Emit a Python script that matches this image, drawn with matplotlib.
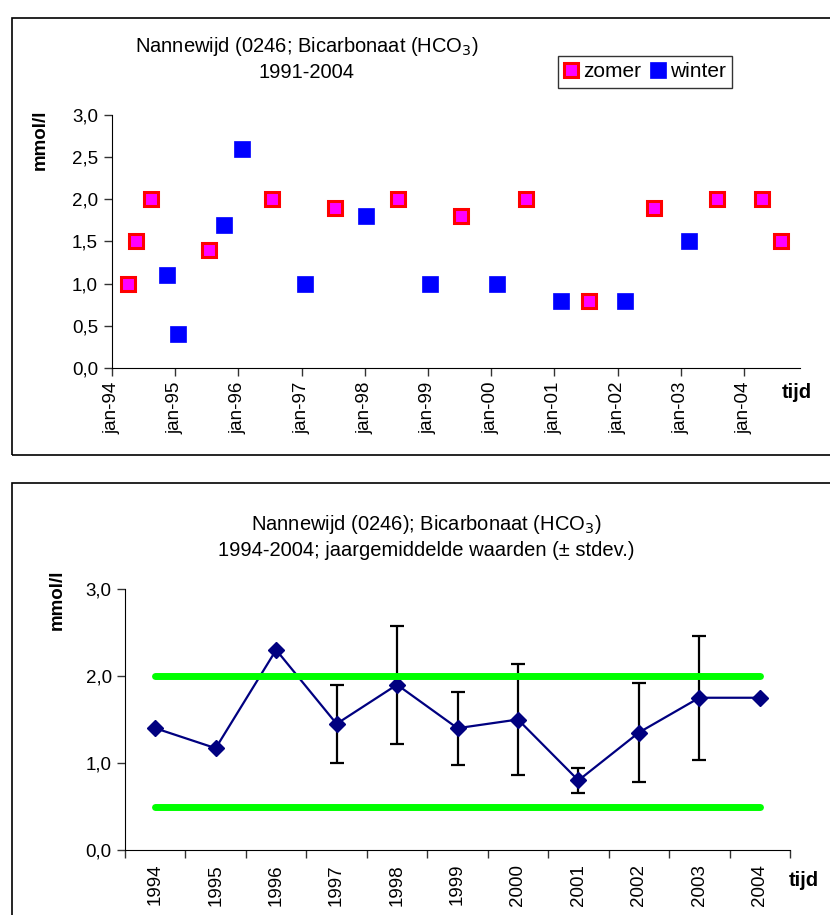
import numpy as np
import matplotlib
matplotlib.use("Agg")
from matplotlib import pyplot as plt
from matplotlib.patches import Rectangle
import matplotlib.dates as mdates
from datetime import date

plt.rcParams["font.family"] = ["Liberation Sans", "DejaVu Sans"]

# top chart: single measurements
zomer_dates = ["1994-04-01", "1994-05-20", "1994-08-15", "1995-07-15", "1996-07-15",
               "1997-07-15", "1998-07-10", "1999-07-10", "2000-07-20", "2001-07-20",
               "2002-08-01", "2003-08-01", "2004-04-15", "2004-08-01"]
zomer_vals = [1.0, 1.5, 2.0, 1.4, 2.0, 1.9, 2.0, 1.8, 2.0, 0.8, 1.9, 2.0, 2.0, 1.5]
winter_dates = ["1994-11-15", "1995-01-20", "1995-10-10", "1996-01-20", "1997-01-20",
                "1998-01-10", "1999-01-10", "2000-02-05", "2001-02-05", "2002-02-15",
                "2003-02-20"]
winter_vals = [1.1, 0.4, 1.7, 2.6, 1.0, 1.8, 1.0, 1.0, 0.8, 0.8, 1.5]
top_ticks = ["jan-94", "jan-95", "jan-96", "jan-97", "jan-98", "jan-99",
             "jan-00", "jan-01", "jan-02", "jan-03", "jan-04"]

# bottom chart: yearly means
years = ["1994", "1995", "1996", "1997", "1998", "1999", "2000", "2001", "2002", "2003", "2004"]
means = [1.4, 1.17, 2.3, 1.45, 1.9, 1.4, 1.5, 0.8, 1.35, 1.75, 1.75]
stdev = [np.nan, np.nan, np.nan, 0.45, 0.68, 0.42, 0.64, 0.14, 0.57, 0.71, np.nan]
upper_norm = 2.0
lower_norm = 0.5


def comma(v, pos):
    return ("%.1f" % v).replace(".", ",")


fig = plt.figure(figsize=(8.3, 9.15), dpi=100)
W, H = 830.0, 915.0

# frames around the two charts
fig.patches.append(Rectangle((12 / W, 1 - 455 / H), 830 / W, 437 / H, transform=fig.transFigure,
                             fill=False, edgecolor="black", lw=1.2))
fig.patches.append(Rectangle((12 / W, 1 - 930 / H), 830 / W, 447 / H, transform=fig.transFigure,
                             fill=False, edgecolor="black", lw=1.2))

# ---- top chart ----
ax1 = fig.add_axes([112 / W, 1 - 368 / H, 688 / W, 253 / H])
zd = [mdates.datestr2num(d) for d in zomer_dates]
wd = [mdates.datestr2num(d) for d in winter_dates]
ax1.plot(zd, zomer_vals, "s", ms=10.5, mfc="#ff00ff", mec="#ff0000", mew=2.2, ls="none", label="zomer")
ax1.plot(wd, winter_vals, "s", ms=11, mfc="#0000ff", mec="#0000ff", mew=0.5, ls="none", label="winter")
ax1.set_ylim(0, 3)
ax1.set_yticks(np.arange(0, 3.01, 0.5))
ax1.yaxis.set_major_formatter(plt.FuncFormatter(comma))
ax1.set_xlim(mdates.date2num(date(1994, 1, 1)), mdates.date2num(date(2004, 11, 20)))
ax1.set_xticks([mdates.date2num(date(1994 + i, 1, 1)) for i in range(len(top_ticks))])
ax1.set_xticklabels(top_ticks, rotation=90)
for s in ["top", "right"]:
    ax1.spines[s].set_visible(False)
ax1.tick_params(direction="out", length=6, width=1, labelsize=13.5, color="#333333")
ax1.tick_params(axis="y", pad=4)
ax1.tick_params(axis="x", pad=4)
leg = ax1.legend(loc="upper left", bbox_to_anchor=(558 / W, 1 - 56 / H), bbox_transform=fig.transFigure,
                 ncol=2, fontsize=15, frameon=True, fancybox=False, edgecolor="black",
                 handlelength=0.6, handletextpad=0.3, columnspacing=0.5, borderpad=0.3,
                 borderaxespad=0)
leg.get_frame().set_linewidth(1.0)
fig.text(307 / W, 1 - 47 / H, "Nannewijd (0246; Bicarbonaat (HCO$_3$)", ha="center", va="center", fontsize=14.5)
fig.text(307 / W, 1 - 73 / H, "1991-2004", ha="center", va="center", fontsize=14.5)
fig.text(40 / W, 1 - 140 / H, "mmol/l", rotation=90, ha="center", va="center", fontsize=13.5, fontweight="bold")
fig.text(797 / W, 1 - 393 / H, "tijd", ha="center", va="center", fontsize=14.5, fontweight="bold")

# ---- bottom chart ----
ax2 = fig.add_axes([125 / W, 1 - 850 / H, 665 / W, 261 / H])
x = np.arange(len(years))
ax2.errorbar(x, means, yerr=stdev, fmt="none", ecolor="black", elinewidth=1.6, capsize=5, capthick=1.6, zorder=2)
ax2.plot(x, means, "-D", color="#000080", lw=1.6, ms=8.5, zorder=3)
ax2.plot([x[0], x[-1]], [upper_norm, upper_norm], color="#00ff00", lw=5, solid_capstyle="round", zorder=4)
ax2.plot([x[0], x[-1]], [lower_norm, lower_norm], color="#00ff00", lw=5, solid_capstyle="round", zorder=4)
ax2.set_xlim(-0.5, len(years) - 0.5)
ax2.set_ylim(0, 3)
ax2.set_yticks([0, 1, 2, 3])
ax2.yaxis.set_major_formatter(plt.FuncFormatter(comma))
ax2.set_xticks(np.arange(len(years) + 1) - 0.5)
ax2.set_xticklabels([])
ax2.set_xticks(x, minor=True)
ax2.set_xticklabels(years, minor=True, rotation=90)
ax2.tick_params(which="minor", length=0, labelsize=13.5, pad=10)
ax2.tick_params(which="major", direction="out", length=6, width=1, labelsize=13.5, color="#333333")
for s in ["top", "right"]:
    ax2.spines[s].set_visible(False)
fig.text(426 / W, 1 - 524 / H, "Nannewijd (0246); Bicarbonaat (HCO$_3$)", ha="center", va="center", fontsize=14.5)
fig.text(426 / W, 1 - 551 / H, "1994-2004; jaargemiddelde waarden (± stdev.)", ha="center", va="center", fontsize=14.5)
fig.text(57 / W, 1 - 600 / H, "mmol/l", rotation=90, ha="center", va="center", fontsize=13.5, fontweight="bold")
fig.text(804 / W, 1 - 880 / H, "tijd", ha="center", va="center", fontsize=14.5, fontweight="bold")

fig.savefig("out.png", dpi=100)
